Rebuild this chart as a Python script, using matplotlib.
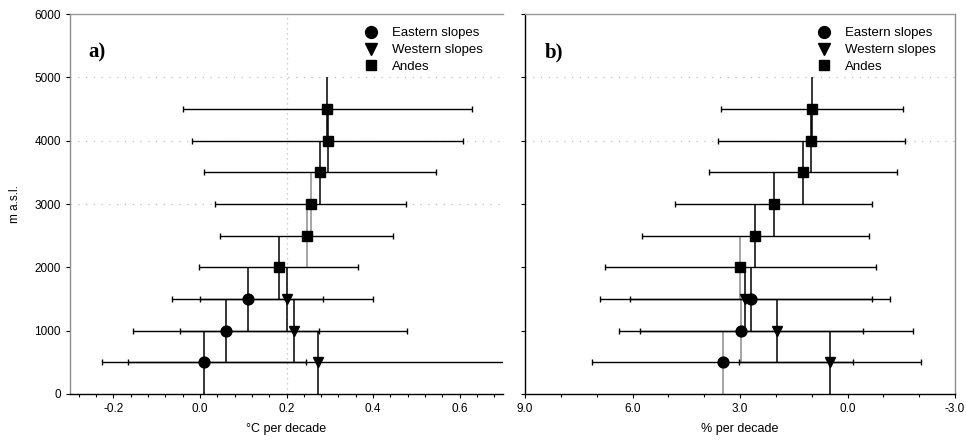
import numpy as np
import matplotlib.pyplot as plt
from matplotlib.lines import Line2D
from matplotlib.ticker import MultipleLocator

plt.rcParams['font.family'] = ['Liberation Sans', 'DejaVu Sans']

# altitude levels (m a.s.l.)
alt_slopes = [500, 1000, 1500]
alt_andes = [2000, 2500, 3000, 3500, 4000, 4500]
band = 500  # half height of each altitude band

# a) temperature trend (deg C per decade) and confidence half-width
temp_east = [0.01, 0.06, 0.11]
temp_east_ci = [0.235, 0.214, 0.175]
temp_west = [0.273, 0.217, 0.20]
temp_west_ci = [0.438, 0.262, 0.20]
temp_andes = [0.182, 0.247, 0.256, 0.278, 0.295, 0.294]
temp_andes_ci = [0.184, 0.20, 0.221, 0.268, 0.313, 0.334]

# b) precipitation trend (% per decade) and confidence half-width
prec_east = [3.48, 2.98, 2.69]
prec_east_ci = [3.64, 3.40, 3.38]
prec_west = [0.49, 1.98, 2.86]
prec_west_ci = [2.53, 3.81, 4.05]
prec_andes = [2.99, 2.57, 2.065, 1.245, 1.01, 0.995]
prec_andes_ci = [3.78, 3.17, 2.745, 2.615, 2.61, 2.535]

# colour of the vertical band line for each point
vcol_a = {'east': ['k', 'k', 'k'], 'west': ['k', 'k', 'k'],
          'andes': ['k', '#8c8c8c', '#8c8c8c', 'k', 'k', 'k']}
vcol_b = {'east': ['#8c8c8c', '#8c8c8c', 'k'], 'west': ['k', 'k', 'k'],
          'andes': ['#8c8c8c', 'k', 'k', 'k', 'k', 'k']}

fig = plt.figure(figsize=(9.66, 4.45), dpi=100)
ax1 = fig.add_axes([70/966, 51/445, 433/966, 380/445])
ax2 = fig.add_axes([525/966, 51/445, 430/966, 380/445])


def draw(ax, series, vcols):
    for key, x, ci, y, m, ms in series:
        for i in range(len(x)):
            ax.errorbar(x[i], y[i], yerr=band, fmt='none', ecolor=vcols[key][i],
                        elinewidth=1.1, capsize=0, zorder=2)
        ax.errorbar(x, y, xerr=ci, fmt='none', ecolor='k', elinewidth=1.0,
                    capsize=2.2, capthick=1.0, zorder=3)
    for key, x, ci, y, m, ms in series:
        ax.plot(x, y, linestyle='none', marker=m, markersize=ms, color='k', zorder=4)


draw(ax1, [('east', temp_east, temp_east_ci, alt_slopes, 'o', 7.8),
           ('west', temp_west, temp_west_ci, alt_slopes, 'v', 7.8),
           ('andes', temp_andes, temp_andes_ci, alt_andes, 's', 7.0)], vcol_a)
draw(ax2, [('east', prec_east, prec_east_ci, alt_slopes, 'o', 7.8),
           ('west', prec_west, prec_west_ci, alt_slopes, 'v', 7.8),
           ('andes', prec_andes, prec_andes_ci, alt_andes, 's', 7.0)], vcol_b)

# faint dotted grid left over in the original
for yy in [3000, 4000, 5000]:
    ax1.axhline(yy, color='#b0b0b0', lw=0.8, ls=(0, (1, 6)), zorder=1)
ax1.axvline(0.2, color='#bdbdbd', lw=0.9, ls=(0, (1, 3)), zorder=1)
for yy in [4000, 5000]:
    ax2.axhline(yy, color='#b0b0b0', lw=0.8, ls=(0, (1, 6)), zorder=1)

ax1.set_xlim(-0.3, 0.7)
ax2.set_xlim(9, -3)
for ax in (ax1, ax2):
    ax.set_ylim(0, 6000)
    ax.set_yticks(np.arange(0, 6001, 1000))
    ax.tick_params(direction='out', length=3, width=0.8, labelsize=8.5, colors='k')
    ax.tick_params(which='minor', direction='out', length=2, width=0.8)

ax1.set_xticks([-0.2, 0.0, 0.2, 0.4, 0.6])
ax1.set_xticklabels(['-0.2', '0.0', '0.2', '0.4', '0.6'])
ax1.xaxis.set_minor_locator(MultipleLocator(0.04))
ax2.set_xticks([9, 6, 3, 0, -3])
ax2.set_xticklabels(['9.0', '6.0', '3.0', '0.0', '-3.0'])
ax2.xaxis.set_minor_locator(MultipleLocator(1))
ax2.set_yticklabels([])

ax1.spines['right'].set_visible(False)
ax1.spines['left'].set_color('#8c8c8c')
ax1.spines['top'].set_color('#9a9a9a')
ax2.spines['top'].set_color('#9a9a9a')
ax2.spines['right'].set_color('#8c8c8c')
for ax in (ax1, ax2):
    for s in ax.spines.values():
        s.set_linewidth(1.0)

ax1.set_xlabel('°C per decade', fontsize=9, labelpad=6)
ax2.set_xlabel('% per decade', fontsize=9, labelpad=6)
ax1.set_ylabel('m a.s.l.', fontsize=8.5, labelpad=10)

ax1.text(0.042, 0.9, 'a)', transform=ax1.transAxes, fontsize=15, fontweight='bold',
         family='Liberation Serif', va='center')
ax2.text(0.047, 0.9, 'b)', transform=ax2.transAxes, fontsize=15, fontweight='bold',
         family='Liberation Serif', va='center')

handles = [Line2D([], [], ls='none', marker='o', ms=8.5, color='k'),
           Line2D([], [], ls='none', marker='v', ms=8.5, color='k'),
           Line2D([], [], ls='none', marker='s', ms=7.5, color='k')]
labels = ['Eastern slopes', 'Western slopes', 'Andes']
for ax in (ax1, ax2):
    ax.legend(handles, labels, loc='upper left', bbox_to_anchor=(0.655, 0.99),
              frameon=False, fontsize=9.5, handletextpad=1.0, labelspacing=0.35,
              handlelength=1.2, borderaxespad=0.3)

fig.savefig('out.png', dpi=100)
